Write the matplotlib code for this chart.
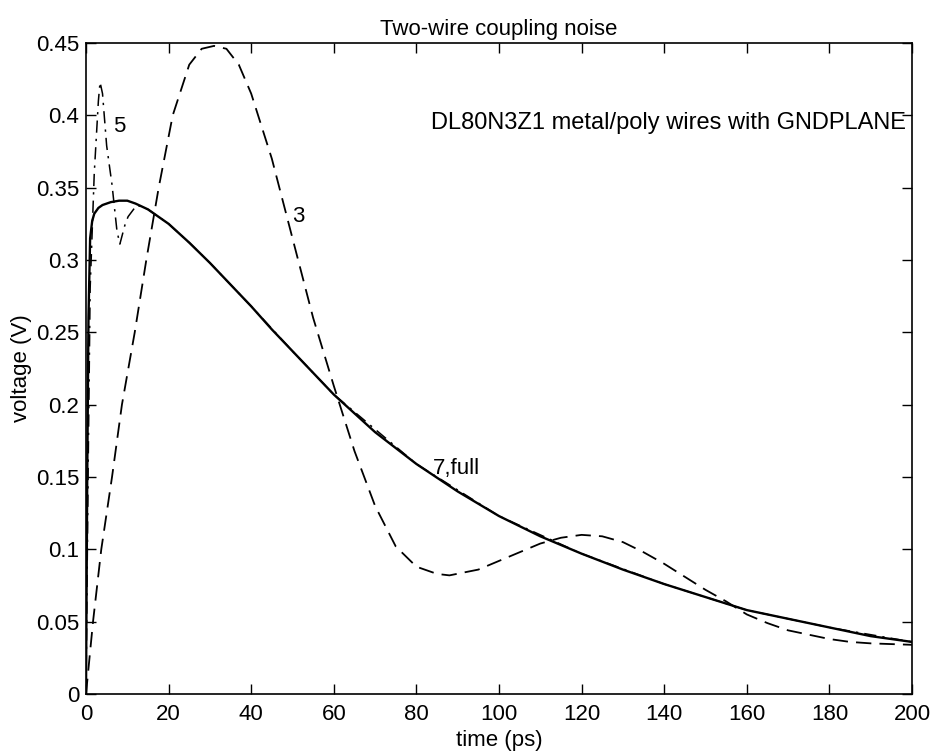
import numpy as np
import matplotlib
matplotlib.use("Agg")
import matplotlib.pyplot as plt

plt.rcParams['font.family'] = ['Liberation Sans', 'DejaVu Sans']

# 7 / full model (solid)
t_full = [0, 0.3, 0.6, 1, 1.5, 2, 3, 4, 6, 8, 10, 12, 15, 20, 25, 30, 35, 40, 45, 50,
          55, 60, 70, 80, 90, 100, 110, 120, 130, 140, 150, 160, 170, 180, 190, 200]
v_full = [0, 0.15, 0.26, 0.315, 0.327, 0.332, 0.336, 0.338, 0.340, 0.341, 0.341, 0.339, 0.335,
          0.325, 0.312, 0.298, 0.283, 0.268, 0.252, 0.237, 0.222, 0.207, 0.181, 0.159, 0.140,
          0.123, 0.109, 0.097, 0.086, 0.076, 0.067, 0.058, 0.052, 0.046, 0.040, 0.036]

# 3rd order model (dashed)
t_3 = [0, 1.7, 3.7, 6.3, 8.7, 11.8, 14.6, 17.6, 21, 25, 28, 31, 34, 37, 40, 45, 50, 55, 60,
       65, 70, 75, 80, 85, 88, 95, 100, 105, 110, 115, 120, 125, 130, 135, 140, 145, 150,
       155, 160, 165, 170, 175, 180, 185, 190, 195, 200]
v_3 = [0, 0.05, 0.1, 0.15, 0.2, 0.25, 0.3, 0.35, 0.4, 0.435, 0.446, 0.448, 0.446, 0.435,
       0.415, 0.37, 0.315, 0.26, 0.213, 0.168, 0.13, 0.102, 0.088, 0.083, 0.082, 0.086, 0.092,
       0.098, 0.104, 0.108, 0.11, 0.109, 0.105, 0.098, 0.09, 0.081, 0.072, 0.064, 0.055,
       0.049, 0.044, 0.041, 0.038, 0.036, 0.035, 0.0345, 0.034]

# 5th order model (dash-dot)
t_5 = [0, 0.5, 1, 2, 3, 3.4, 4, 5, 6.3, 7.5, 8.2, 9.5, 10.2, 12.3, 15, 20, 25, 30, 40,
       50, 60, 80, 100, 120, 140, 160, 180, 200]
v_5 = [0, 0.15, 0.28, 0.36, 0.41, 0.423, 0.415, 0.379, 0.352, 0.32, 0.311, 0.325, 0.33,
       0.338, 0.335, 0.325, 0.312, 0.298, 0.268, 0.237, 0.207, 0.159, 0.123, 0.097, 0.076,
       0.058, 0.046, 0.036]

fig = plt.figure(figsize=(9.33, 7.54), dpi=100)
ax = fig.add_axes([86 / 933, 1 - 694 / 754, (912 - 86) / 933, (694 - 43) / 754])

ax.plot(t_5, v_5, color='black', linestyle=(0, (8, 4, 1.5, 4)), linewidth=1.1)
ax.plot(t_3, v_3, color='black', linestyle=(0, (8.5, 4.5)), linewidth=1.3)
ax.plot(t_full, v_full, color='black', linestyle='-', linewidth=1.7)

ax.set_xlim(0, 200)
ax.set_ylim(0, 0.45)
ax.set_xticks(np.arange(0, 201, 20))
ax.set_yticks(np.arange(0, 0.451, 0.05))
ax.set_yticklabels(['0', '0.05', '0.1', '0.15', '0.2', '0.25', '0.3', '0.35', '0.4', '0.45'])
ax.tick_params(direction='in', top=True, right=True, length=7, width=1, labelsize=16)
ax.tick_params(axis='x', pad=7)
ax.tick_params(axis='y', pad=5)
for s in ax.spines.values():
    s.set_linewidth(1.2)

ax.set_title("Two-wire coupling noise", fontsize=16, pad=6)
ax.set_xlabel("time (ps)", fontsize=16, labelpad=4)
ax.set_ylabel("voltage (V)", fontsize=16, labelpad=3)

ax.text(83.5, 0.395, "DL80N3Z1 metal/poly wires with GNDPLANE", fontsize=17, va='center')
ax.text(6.5, 0.392, "5", fontsize=16, va='center')
ax.text(50, 0.33, "3", fontsize=16, va='center')
ax.text(84, 0.156, "7,full", fontsize=16, va='center')

fig.savefig("out.png", dpi=100)
